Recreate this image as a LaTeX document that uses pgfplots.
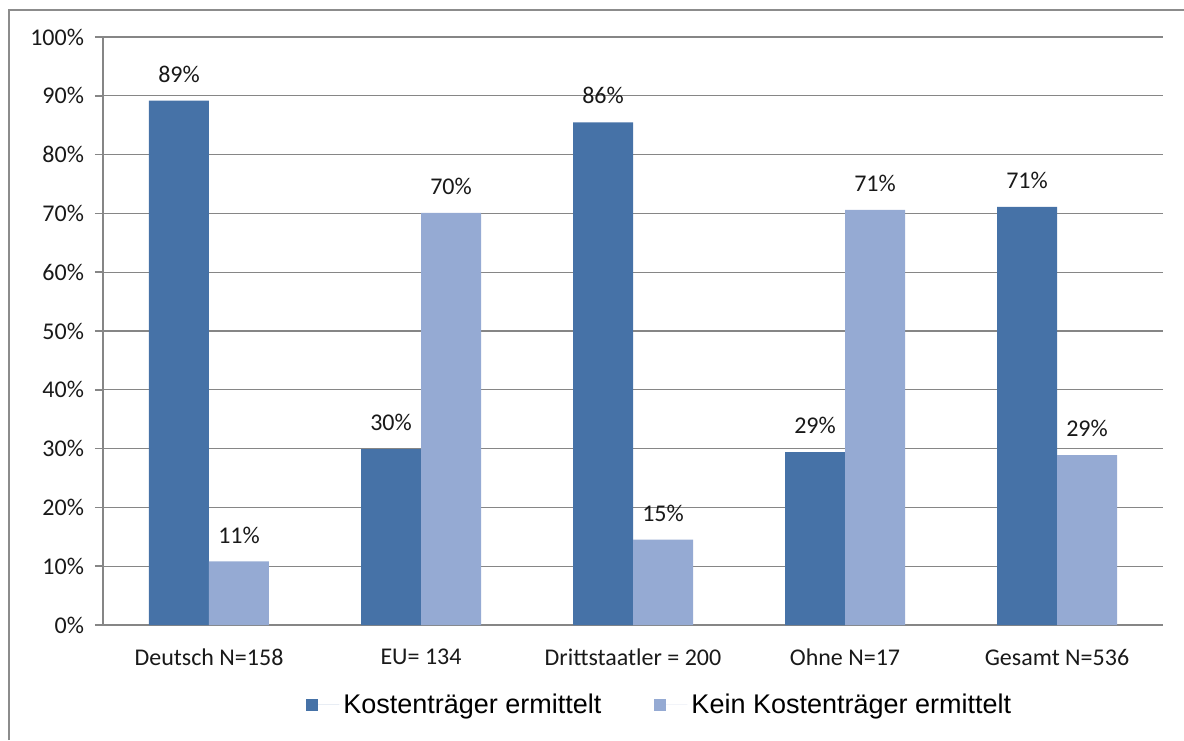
\documentclass[border=0pt]{standalone}
\usepackage{pgfplots}
\pgfplotsset{compat=1.18}
\usepackage{fontspec}
\setmainfont{Carlito}
\newfontfamily\arialfont{Liberation Sans}
\definecolor{darkb}{RGB}{70,114,167}
\definecolor{lightb}{RGB}{149,170,211}
\definecolor{gridc}{RGB}{134,134,134}
\begin{document}
\begin{tikzpicture}
\path[use as bounding box] (0,0) rectangle (592pt,370pt);
\draw[gray!90, line width=1pt] (4.5pt,0) -- (4.5pt,365pt) -- (592pt,365pt);
\begin{axis}[
 at={(51.5pt,57.5pt)}, anchor=south west,
 scale only axis, width=530pt, height=294pt,
 ybar=0pt, bar width=30pt,
 ymin=0, ymax=100, ytick={0,10,...,100},
 xmin=-0.5, xmax=4.5,
 xtick={0,...,4},
 xticklabels={Deutsch N=158, EU= 134, Drittstaatler = 200, Ohne N=17, Gesamt N=536},
 minor xtick={-0.5,0.5,...,4.5},
 /pgf/number format/assume math mode=true,
 yticklabel={\pgfmathprintnumber{\tick}\%},
 axis x line*=bottom, axis y line*=left,
 axis line style={gridc, -, line width=0.8pt},
 tick align=outside,
 major tick length=4pt, minor tick length=3.5pt,
 xtick style={draw=none},
 ytick style={gridc, line width=0.8pt},
 minor tick style={gridc, line width=0.8pt},
 ymajorgrids, grid style={gridc, line width=0.6pt},
 tick label style={font=\fontsize{12}{14}\selectfont, text=black!90},
 yticklabel style={xshift=-2pt},
 xticklabel style={yshift=-4.5pt},
 nodes near coords={\pgfmathprintnumber[fixed,precision=0]{\pgfplotspointmeta}\%},
 every node near coord/.append style={font=\fontsize{12}{14}\selectfont, text=black!90, yshift=5.5pt},
 legend style={at={(0.1915,-0.136)}, anchor=west, draw=none, fill=none,
   font=\arialfont\fontsize{13.5}{16}\selectfont, text=black,
   /tikz/every even column/.append style={column sep=24.5pt}, inner sep=0pt},
 legend columns=2, legend cell align=left,
]
\addplot[fill=darkb, draw=none, legend image code/.code={\fill[darkb] (0pt,-3pt) rectangle (6pt,3pt); \path (0pt,0pt) -- (16.5pt,0pt);}]
 coordinates {(0,89.2) (1,29.9) (2,85.5) (3,29.4) (4,71.1)};
\addplot[fill=lightb, draw=none, legend image code/.code={\fill[lightb] (0pt,-3pt) rectangle (6pt,3pt); \path (0pt,0pt) -- (16.5pt,0pt);}]
 coordinates {(0,10.8) (1,70.1) (2,14.5) (3,70.6) (4,28.9)};
\legend{Kostenträger ermittelt, Kein Kostenträger ermittelt}
\end{axis}
\end{tikzpicture}
\end{document}
